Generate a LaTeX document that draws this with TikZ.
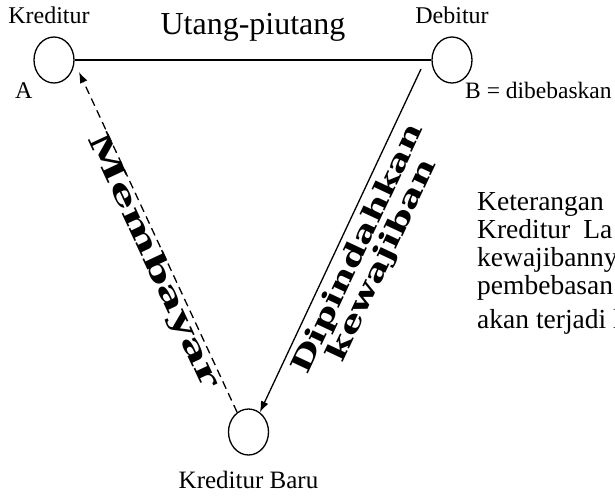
\documentclass[tikz,border=0pt]{standalone}
\usepackage{fontspec}
\setmainfont{Liberation Serif}
\newfontfamily\artfont{DejaVu Serif}
\usepackage{graphicx}
\usetikzlibrary{arrows.meta,positioning,shapes.geometric}
\newcommand{\wordart}[3]{\resizebox{#1}{#2}{\artfont\bfseries #3}}

\begin{document}
\begin{tikzpicture}[x=1pt,y=1pt,
    o/.style={draw,ellipse,line width=1.3pt,minimum width=40pt,minimum height=46pt,inner sep=0pt},
    lbl/.style={inner sep=0pt,font=\fontsize{24}{28}\selectfont},
    ket/.style={lbl,anchor=base west,font=\fontsize{27.5}{30}\selectfont},
    ar/.style={-{Latex[length=11pt,width=8pt]},line width=1.3pt},
    da/.style={ar,dash pattern=on 8pt off 5pt},
    art/.style={inner sep=0pt,sloped,align=center,
      font={\fontsize{10}{5}\selectfont\lineskiplimit=0pt\lineskip=0pt}}]
  \useasboundingbox (0,0) rectangle (615,-496);
  % tiga pihak
  \node[o] (kred) at (54,-60) {};
  \node[o] (deb) at (452,-60) {};
  \node[o] (baru) at (248.5,-432) {};
  \node[lbl,above=12pt of kred,xshift=-5pt] (kredl) {Kreditur};
  \node[lbl,above=12pt of deb] (debl) {Debitur};
  \node[lbl,below=15pt of baru,font=\fontsize{25}{28}\selectfont] (barul) {Kreditur Baru};
  \node[lbl,anchor=base west] (a) at (15,-98) {A};
  \node[lbl,anchor=base west,font=\fontsize{23.5}{28}\selectfont] (b) at (465,-98) {B = dibebaskan};
  \coordinate (d0) at (421,-69);
  \coordinate (k0) at (79,-72);
  % hubungan
  \draw[line width=1.6pt] (kred) -- node[lbl,above=18pt,font=\fontsize{32}{36}\selectfont] (utang) {Utang-piutang} (deb);
  \draw[ar] (d0) -- node[art,pos=0.5,below=6pt] (pindah)
    {\wordart{273pt}{21pt}{Dipindahkan}\\\wordart{220pt}{21pt}{kewajiban}} (baru.60);
  \draw[da] (baru.120) -- node[art,pos=0.46,below=-2pt] (bayar)
    {\wordart{277pt}{22pt}{Membayar}} (k0);
  % keterangan
  \node[ket] (k1) at (477,-210) {Keterangan};
  \node[ket] (k2) at ([yshift=-28pt]k1.base west) {Kreditur\hspace{13pt}La};
  \node[ket] (k3) at ([yshift=-28pt]k2.base west) {kewajibanny};
  \node[ket] (k4) at ([yshift=-28pt]k3.base west) {pembebasan};
  \node[ket] (k5) at ([yshift=-34pt]k4.base west) {akan terjadi l};
\end{tikzpicture}
\end{document}
